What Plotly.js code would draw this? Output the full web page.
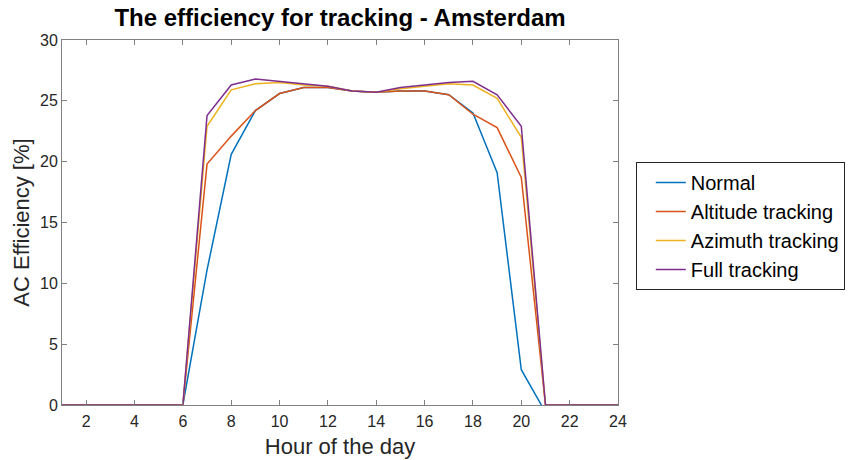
<!DOCTYPE html>
<html>
<head>
<meta charset="utf-8">
<script src="https://cdn.plot.ly/plotly-3.0.1.min.js"></script>
<style>html,body{margin:0;padding:0;background:#fff;overflow:hidden;}#chart{width:850px;height:460px;}</style>
</head>
<body>
<div id="chart"></div>
<script>
const hours = [1,2,3,4,5,6,7,8,9,10,11,12,13,14,15,16,17,18,19,20,21,22,23,24];
const normal   = [0,0,0,0,0,0,11.1,20.6,24.2,25.6,26.1,26.1,25.8,25.7,25.8,25.8,25.5,24.0,19.1,2.9,-0.6,0,0,0];
const altitude = [0,0,0,0,0,0,19.8,22.1,24.2,25.6,26.1,26.1,25.8,25.7,25.8,25.8,25.5,23.9,22.8,18.7,0,0,0,0];
const azimuth  = [0,0,0,0,0,0,22.9,25.9,26.4,26.5,26.3,26.2,25.8,25.7,26.0,26.2,26.4,26.3,25.2,22.0,0,0,0,0];
const full     = [0,0,0,0,0,0,23.8,26.3,26.8,26.6,26.4,26.2,25.8,25.7,26.1,26.3,26.5,26.6,25.5,22.9,0,0,0,0];
const seriesNames = ["Normal","Altitude tracking","Azimuth tracking","Full tracking"];
const colors = ["#0072BD","#D95319","#EDB120","#7E2F8E"];
const values = [normal, altitude, azimuth, full];

const traces = values.map((v,i)=>({
  x: hours, y: v, type: 'scatter', mode: 'lines', name: seriesNames[i],
  line: {color: colors[i], width: 1.5}
}));

const axisCommon = {
  showline: true, mirror: 'ticks', linecolor: '#808080', linewidth: 1,
  ticks: 'inside', ticklen: 5, tickcolor: '#808080', showgrid: false, zeroline: false,
  tickfont: {family: 'Liberation Sans, Arial, sans-serif', size: 16, color: '#262626'}
};

const layout = {
  width: 850, height: 460,
  margin: {l: 62, r: 232, t: 40, b: 55, autoexpand: false},
  paper_bgcolor: '#fff', plot_bgcolor: '#fff',
  font: {family: 'Liberation Sans, Arial, sans-serif', color: '#262626'},
  title: {text: 'The efficiency for tracking - Amsterdam', x: 0.5, xref: 'paper', y: 0.962, yanchor: 'middle',
          font: {family: 'Liberation Sans, Arial, sans-serif', size: 24, color: '#000', weight: 'bold'}},
  xaxis: Object.assign({}, axisCommon, {range: [1,24], tick0: 2, dtick: 2, ticklabelstandoff: 2,
          title: {text: 'Hour of the day', standoff: 9, font: {size: 22, color: '#262626'}}}),
  yaxis: Object.assign({}, axisCommon, {range: [0,30], tick0: 0, dtick: 5,
          title: {text: 'AC Efficiency [%]', standoff: 4, font: {size: 22, color: '#262626'}}}),
  legend: {x: 1.032, y: 0.666, xanchor: 'left', yanchor: 'top', bordercolor: '#262626', borderwidth: 1,
           font: {size: 20, color: '#000'}, bgcolor: '#fff', tracegroupgap: 0, itemwidth: 30, indentation: 14},
  showlegend: true
};

Plotly.newPlot('chart', traces, layout, {staticPlot: true, displayModeBar: false});
</script>
</body>
</html>
